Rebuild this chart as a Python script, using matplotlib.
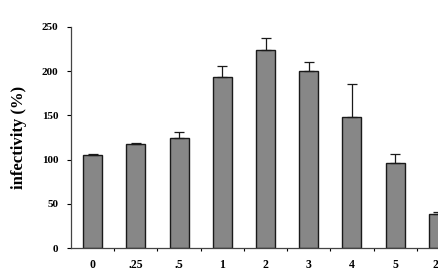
import matplotlib.pyplot as plt
import numpy as np

# values
labels = ["0", ".25", ".5", "1", "2", "3", "4", "5", "24"]
infectivity = [105, 118, 124, 193, 224, 200, 148, 96, 39]
errors = [1, 1, 7, 13, 14, 10, 38, 10, 2]

plt.rcParams['font.family'] = ['Liberation Serif', 'DejaVu Serif']
plt.rcParams['font.weight'] = 'bold'

fig = plt.figure(figsize=(4.39, 2.78), dpi=100)
ax = fig.add_axes([71 / 439, 30 / 278, 389 / 439, 221 / 278])

x = np.arange(len(labels))
lower = np.zeros(len(errors))
ax.bar(x, infectivity, width=0.44, color='#878787', edgecolor='#1a1a1a', linewidth=1.0,
       yerr=[lower, errors], capsize=3.5,
       error_kw=dict(ecolor='#1a1a1a', elinewidth=0.9, capthick=0.9))

ax.set_xlim(-0.5, len(labels) - 0.5)
ax.set_ylim(0, 250)
ax.set_yticks(range(0, 251, 50))
ax.set_xticks(x)
ax.set_xticklabels(labels)
ax.set_xticks(np.arange(0.5, len(labels), 1), minor=True)

ax.tick_params(axis='x', which='major', length=0, pad=8, labelsize=8.5)
ax.tick_params(axis='x', which='minor', length=2.5, width=0.8, direction='out')
ax.tick_params(axis='y', length=3, width=0.8, direction='out', pad=6, labelsize=8)

for side in ['top', 'right']:
    ax.spines[side].set_visible(False)
for side in ['left', 'bottom']:
    ax.spines[side].set_color('#444444')
    ax.spines[side].set_linewidth(0.9)

ax.set_ylabel("infectivity (%)", fontsize=12, fontweight='bold', labelpad=11)
ax.set_xlabel("concentration (mM)", fontsize=11, fontweight='bold', labelpad=12)

fig.savefig("out.png", dpi=100)
